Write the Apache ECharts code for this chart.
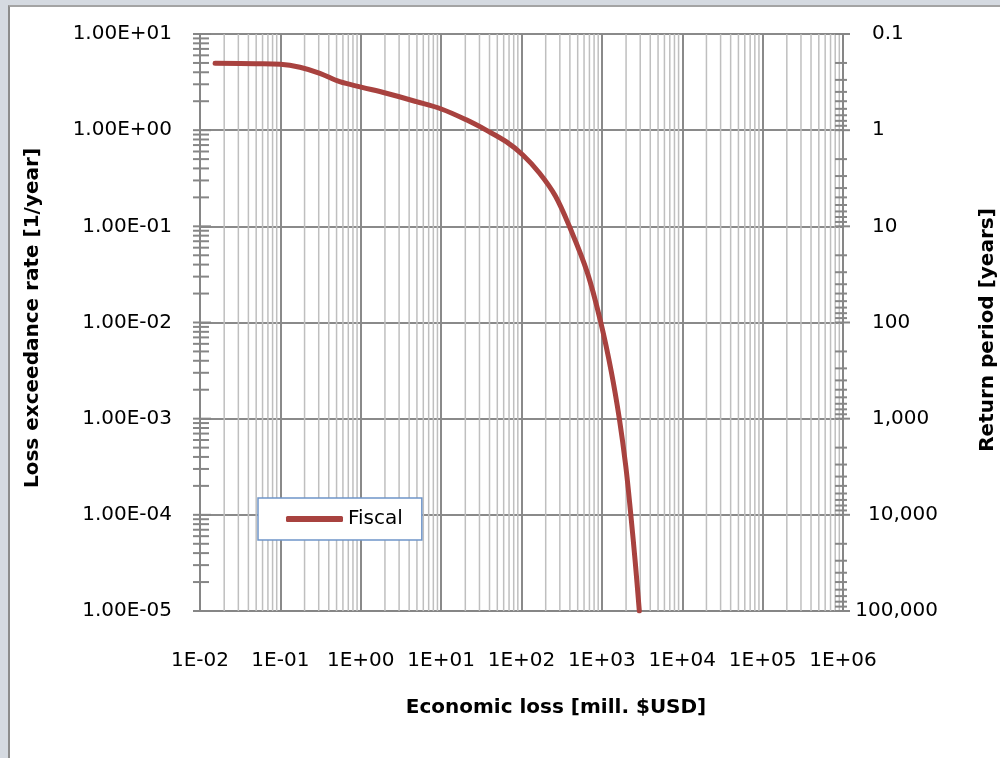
<!DOCTYPE html>
<html>
<head>
<meta charset="utf-8">
<script src="https://cdn.jsdelivr.net/npm/echarts@6/dist/echarts.min.js"></script>
<style>
  html, body { margin: 0; padding: 0; background: #d5dae1; overflow: hidden; }
  #panel { position: absolute; left: 8px; top: 5px; width: 1100px; height: 900px;
           background: #ffffff; border-left: 2px solid #8c8c8c; border-top: 2px solid #a4a4a4; }
  #chart { position: absolute; left: 0; top: 0; width: 1000px; height: 758px; }
</style>
</head>
<body>
<div id="panel"></div>
<div id="chart"></div>
<script>
// Loss exceedance curve: economic loss [mill. $USD] vs. annual exceedance rate
const seriesName = 'Fiscal';
const lossValues = [0.0154, 0.05, 0.1, 0.175, 0.31, 0.548, 1.04, 2.08, 4.92, 10.05, 20.6, 36.4,
                    64.5, 104, 167, 264, 394, 661, 972, 1312, 1649, 1987, 2291, 2607, 2923];
const rateValues = [4.95, 4.9, 4.84, 4.51, 3.90, 3.19, 2.79, 2.42, 1.98, 1.66, 1.28, 1.0,
                    0.759, 0.552, 0.359, 0.207, 0.1, 0.0328, 0.0099, 0.00306, 1.0e-3, 3.16e-4,
                    1.0e-4, 3.16e-5, 1.0e-5];

// Axis ranges (decades)
const xRange = [0.01, 1e6];
const rateRange = [1e-5, 10];
const periodRange = [0.1, 1e5];

const xTitle = 'Economic loss [mill. $USD]';
const leftTitle = 'Loss exceedance rate [1/year]';
const rightTitle = 'Return period [years]';

const FONT = 'DejaVu Sans';
const pad2 = n => (n < 10 ? '0' : '') + n;
const expOf = v => Math.round(Math.log10(v));

// intermediate log positions (2..9 x 10^n) inside a range
function minorSteps(lo, hi) {
  const out = [];
  for (let e = expOf(lo); e < expOf(hi); e++) {
    for (let k = 2; k <= 9; k++) out.push(k * Math.pow(10, e));
  }
  return out;
}
function majorSteps(lo, hi) {
  const out = [];
  for (let e = expOf(lo); e <= expOf(hi); e++) out.push(Math.pow(10, e));
  return out;
}

const minorGridX = minorSteps(xRange[0], xRange[1]);
const leftMinor = minorSteps(rateRange[0], rateRange[1]);
const leftMajor = majorSteps(rateRange[0], rateRange[1]);
const rightMinor = minorSteps(periodRange[0], periodRange[1]);
const rightMajor = majorSteps(periodRange[0], periodRange[1]);

function segRenderer(dx1, dx2, color, width, vertical) {
  return function (params, api) {
    const p = api.coord([api.value(0), api.value(1)]);
    let shape;
    if (vertical) {
      const t = api.coord([api.value(0), rateRange[1]]);
      const b = api.coord([api.value(0), rateRange[0]]);
      shape = { x1: t[0], y1: t[1], x2: b[0], y2: b[1] };
    } else {
      shape = { x1: p[0] + dx1, y1: p[1], x2: p[0] + dx2, y2: p[1] };
    }
    return { type: 'line', shape: shape, style: { stroke: color, lineWidth: width } };
  };
}

const chart = echarts.init(document.getElementById('chart'), null, { renderer: 'canvas' });

const option = {
  backgroundColor: 'transparent',
  animation: false,
  grid: { left: 200, right: 157, top: 34, bottom: 147, containLabel: false },
  legend: {
    data: [seriesName],
    left: 258, top: 498,
    padding: [11, 19, 11, 28],
    itemWidth: 57, itemHeight: 6,
    icon: 'roundRect',
    backgroundColor: '#ffffff',
    borderColor: '#6f95c9', borderWidth: 1.5,
    textStyle: { fontFamily: FONT, fontSize: 20, color: '#000' }
  },
  xAxis: {
    type: 'log', logBase: 10, min: xRange[0], max: xRange[1], interval: 1,
    axisLine: { show: true, lineStyle: { color: '#868686', width: 2 } },
    axisTick: { show: false },
    splitLine: { show: true, lineStyle: { color: '#8a8a8a', width: 2 } },
    axisLabel: {
      margin: 40, fontFamily: FONT, fontSize: 20, color: '#000',
      formatter: v => { const e = expOf(v); return '1E' + (e < 0 ? '-' : '+') + pad2(Math.abs(e)); }
    }
  },
  yAxis: [
    {
      type: 'log', logBase: 10, min: rateRange[0], max: rateRange[1], interval: 1,
      axisLine: { show: true, lineStyle: { color: '#868686', width: 2 } },
      axisTick: { show: false },
      splitLine: { show: true, lineStyle: { color: '#8a8a8a', width: 2 } },
      axisLabel: {
        margin: 28, fontFamily: FONT, fontSize: 20, color: '#000',
        formatter: v => { const e = expOf(v); return '1.00E' + (e < 0 ? '-' : '+') + pad2(Math.abs(e)); }
      }
    },
    {
      type: 'log', logBase: 10, min: periodRange[0], max: periodRange[1], interval: 1,
      inverse: true, position: 'right',
      axisLine: { show: true, lineStyle: { color: '#868686', width: 2 } },
      axisTick: { show: false },
      splitLine: { show: false },
      axisLabel: {
        margin: 95, align: 'right', fontFamily: FONT, fontSize: 20, color: '#000',
        formatter: v => {
          const e = expOf(v);
          const s = e < 0 ? '0.1' : Math.pow(10, e).toLocaleString('en-US');
          return s.length > 5 ? '{w|' + s + '}' : '{n|' + s + '}';
        },
        rich: {
          n: { width: 66, align: 'left', fontFamily: FONT, fontSize: 20, color: '#000' },
          w: { fontFamily: FONT, fontSize: 20, color: '#000' }
        }
      }
    }
  ],
  graphic: [
    {
      type: 'text', x: 556, y: 708,
      style: { text: xTitle, fontFamily: FONT, fontWeight: 'bold', fontSize: 20, fill: '#000',
               align: 'center', verticalAlign: 'middle' }
    },
    {
      type: 'text', x: 33, y: 318, rotation: Math.PI / 2,
      style: { text: leftTitle, fontFamily: FONT, fontWeight: 'bold', fontSize: 20, fill: '#000',
               align: 'center', verticalAlign: 'middle' }
    },
    {
      type: 'text', x: 988, y: 330, rotation: Math.PI / 2,
      style: { text: rightTitle, fontFamily: FONT, fontWeight: 'bold', fontSize: 20, fill: '#000',
               align: 'center', verticalAlign: 'middle' }
    }
  ],
  series: [
    {
      // light vertical grid at 2..9 within each decade
      type: 'custom', silent: true, z: 1, clip: false,
      xAxisIndex: 0, yAxisIndex: 0,
      renderItem: segRenderer(0, 0, '#bfbfbf', 1.5, true),
      data: minorGridX.map(v => [v, 1])
    },
    {
      type: 'custom', silent: true, z: 2, clip: false,
      yAxisIndex: 0,
      renderItem: segRenderer(-7, 9, '#868686', 2, false),
      data: leftMinor.map(v => [xRange[0], v])
    },
    {
      type: 'custom', silent: true, z: 2, clip: false,
      yAxisIndex: 0,
      renderItem: segRenderer(-7, 11, '#868686', 2, false),
      data: leftMajor.map(v => [xRange[0], v])
    },
    {
      type: 'custom', silent: true, z: 2, clip: false,
      yAxisIndex: 1,
      renderItem: segRenderer(-8, 4, '#868686', 2, false),
      data: rightMinor.map(v => [xRange[1], v])
    },
    {
      type: 'custom', silent: true, z: 2, clip: false,
      yAxisIndex: 1,
      renderItem: segRenderer(-8, 7, '#868686', 2, false),
      data: rightMajor.map(v => [xRange[1], v])
    },
    {
      name: seriesName, type: 'line', z: 5,
      xAxisIndex: 0, yAxisIndex: 0,
      data: lossValues.map((x, i) => [x, rateValues[i]]),
      smooth: 0.35,
      showSymbol: false, symbol: 'none',
      lineStyle: { color: '#a8423f', width: 5, cap: 'round', join: 'round' },
      itemStyle: { color: '#a8423f' }
    }
  ]
};

chart.setOption(option);
</script>
</body>
</html>
